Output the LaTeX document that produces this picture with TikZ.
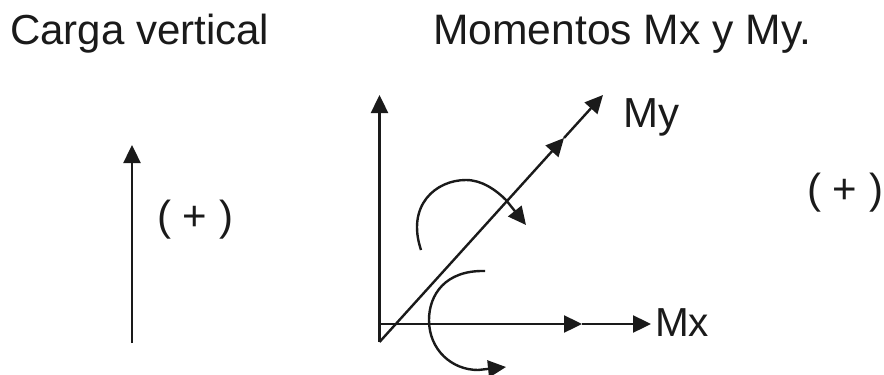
\documentclass[tikz,border=0pt]{standalone}
\usepackage{fontspec}
\setmainfont{Liberation Sans}
\usepackage{tikz}
\usetikzlibrary{arrows.meta}
\definecolor{inkgray}{HTML}{1A1A1A}

\begin{document}
\begin{tikzpicture}[
  x=1pt, y=-1pt,
  lab/.style={inner sep=0pt, anchor=base west, text=inkgray, font=\fontsize{42}{42}\selectfont},
  arr/.style={-{Triangle[length=18pt, width=17pt]}, line width=2.4pt, color=inkgray},
  lin/.style={line width=2.4pt, color=inkgray}
]
\useasboundingbox (0,0) rectangle (884,375);

\node[lab] (carga) at (10,44) {Carga vertical};
\node[lab, font=\fontsize{42.6}{42.6}\selectfont] (mom) at (433,44) {Momentos Mx y My.};
\node[lab] (signa) at (157,230) {( + )};
\node[lab] (signb) at (807,203) {( + )};
\node[lab] (my) at (623,127) {My};
\node[lab, font=\fontsize{40.5}{40.5}\selectfont] (mx) at (655,336) {Mx};

% carga
\coordinate (cb) at (132,343);
\coordinate (ct) at (132,145);
\draw[arr] (cb) -- (ct);

% ejes
\coordinate (o) at (379.5,342);
\coordinate (oh) at (379.5,324);
\coordinate (yt) at (379.5,95);
\coordinate (xm) at (582,324);
\coordinate (xt) at (651,324);
\coordinate (dm) at (564,138);
\coordinate (dt) at (603,95);
\draw[arr] (o) -- (yt);
\draw[arr] (oh) -- (xm);
\draw[arr] (xm) -- (xt);
\draw[arr] (o) -- (dm);
\draw[arr] (dm) -- (dt);

% momentos
\coordinate (a1) at (421,250);
\coordinate (a2) at (526,225);
\coordinate (b1) at (485,271);
\coordinate (b2) at (506,367);
\draw[arr] (a1) .. controls (406,205) and (436,180) .. (466,180)
  .. controls (482,180) and (496,190) .. (506,200) -- (a2);
\draw[lin] (b1) .. controls (445,270) and (429,295) .. (429,320);
\draw[arr] (429,320) .. controls (429,350) and (452,370) .. (478,370) -- (b2);
\end{tikzpicture}
\end{document}
